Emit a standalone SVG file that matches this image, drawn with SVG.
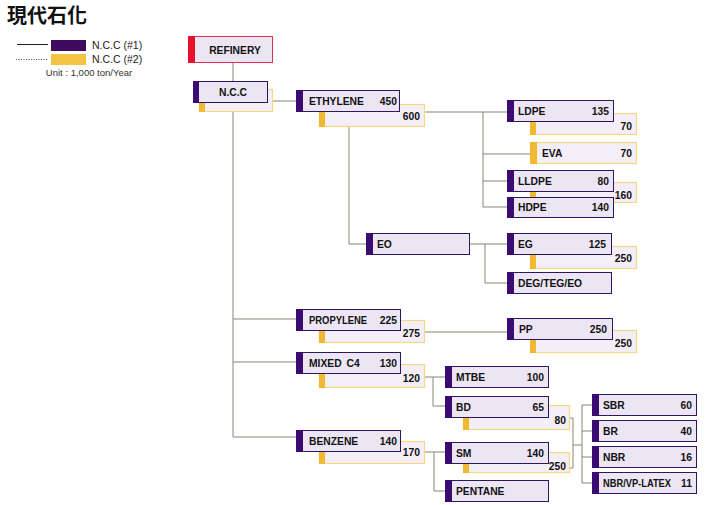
<svg xmlns="http://www.w3.org/2000/svg" width="724" height="505" viewBox="0 0 724 505">
<style>
.b1{fill:#ece5f4;stroke:#2e1660;stroke-width:1}
.b2{fill:#f3eef7;stroke:#f1d985;stroke-width:1.2}
.pb{fill:#3a0c72}
.yb{fill:#f1b932}
.t{font-family:"Liberation Sans",Arial,sans-serif;font-weight:bold;font-size:10.3px;fill:#111}
.e{text-anchor:end}
.c{stroke:#858575;stroke-width:1;fill:none}
</style>
<rect width="724" height="505" fill="#fff"/>
<g id="title"><text x="7" y="23" font-family="'Noto Sans CJK TC','Noto Sans CJK SC',sans-serif" font-size="20" font-weight="bold" fill="#111">現代石化</text></g>
<g id="legend">
<line x1="17" y1="44.5" x2="48" y2="44.5" stroke="#222" stroke-width="1"/>
<rect x="51" y="40" width="35" height="11" fill="#3e0b60"/>
<text x="92" y="49" font-family="'Liberation Sans',Arial,sans-serif" font-size="10.5" fill="#222">N.C.C (#1)</text>
<line x1="16" y1="59.5" x2="48" y2="59.5" stroke="#555" stroke-width="1" stroke-dasharray="1,1.5"/>
<rect x="51" y="54" width="35" height="11" fill="#f6c444"/>
<text x="92" y="63" font-family="'Liberation Sans',Arial,sans-serif" font-size="10.5" fill="#222">N.C.C (#2)</text>
<text x="89" y="76" text-anchor="middle" font-family="'Liberation Sans',Arial,sans-serif" font-size="9.5" fill="#333">Unit : 1,000 ton/Year</text>
</g>
<g id="connectors">
<path class="c" d="M233 62V81M233 102V437M273 101H296M233 319H296M233 362H296M233 437H296"/>
<path class="c" d="M424 112H507M483 112V207M483 154H530M483 181H507M483 207H507"/>
<path class="c" d="M349 126V244H366M469 244H507M485 244V283H507"/>
<path class="c" d="M424 332H507"/>
<path class="c" d="M424 377H445M433 377V406H445"/>
<path class="c" d="M424 452H445M434 452V491H445"/>
<path class="c" d="M569 418H573M570 468H573M573 418V468M573 445H582M582 405V483M582 405H592M582 431H592M582 457H592M582 483H592"/>
</g>
<g id="refinery">
<rect x="188.5" y="36.5" width="84" height="26" fill="#ece5f4" stroke="#e2304f" stroke-width="1"/>
<rect x="188" y="36" width="7" height="27" fill="#e8102a"/>
<text class="t" x="235" y="54" text-anchor="middle" font-size="11">REFINERY</text>
</g>
<g id="ncc">
<rect class="b2" x="199.5" y="89.5" width="73" height="22"/>
<rect class="yb" x="199" y="89" width="6" height="23"/>
<rect class="b1" x="193.5" y="81.5" width="74" height="21"/>
<rect class="pb" x="193" y="81" width="6" height="22"/>
<text class="t" x="233" y="96" text-anchor="middle" font-size="11">N.C.C</text>
</g>
<g id="ethylene">
<rect class="b2" x="319.5" y="104.5" width="105" height="22"/>
<rect class="yb" x="319" y="104" width="6" height="23"/>
<rect class="b1" x="296.5" y="90.5" width="103" height="21"/>
<rect class="pb" x="296" y="90" width="7" height="22"/>
<text class="t" x="309" y="105">ETHYLENE</text>
<text class="t e" x="397" y="105">450</text>
<text class="t e" x="420" y="120">600</text>
</g>
<g id="ldpe">
<rect class="b2" x="530.5" y="113.5" width="106" height="21"/>
<rect class="yb" x="530" y="113" width="6" height="22"/>
<rect class="b1" x="507.5" y="100.5" width="106" height="21"/>
<rect class="pb" x="507" y="100" width="7" height="22"/>
<text class="t" x="518" y="115">LDPE</text>
<text class="t e" x="609" y="115">135</text>
<text class="t e" x="632" y="130">70</text>
</g>
<g id="eva">
<rect class="b2" x="530.5" y="142.5" width="106" height="21"/>
<rect class="yb" x="530" y="142" width="7" height="22"/>
<text class="t" x="542" y="157">EVA</text>
<text class="t e" x="632" y="157">70</text>
</g>
<g id="lldpe-hdpe-2">
<rect class="b2" x="530.5" y="182.5" width="106" height="20"/>
<rect class="yb" x="530" y="182" width="6" height="21"/>
<text class="t e" x="632" y="199">160</text>
</g>
<g id="lldpe">
<rect class="b1" x="507.5" y="170.5" width="106" height="21"/>
<rect class="pb" x="507" y="170" width="7" height="22"/>
<text class="t" x="518" y="185">LLDPE</text>
<text class="t e" x="609" y="185">80</text>
</g>
<g id="hdpe">
<rect class="b1" x="507.5" y="197.5" width="106" height="20"/>
<rect class="pb" x="507" y="197" width="7" height="21"/>
<text class="t" x="518" y="211">HDPE</text>
<text class="t e" x="609" y="211">140</text>
</g>
<g id="eo">
<rect class="b1" x="366.5" y="233.5" width="103" height="21"/>
<rect class="pb" x="366" y="233" width="7" height="22"/>
<text class="t" x="377" y="248">EO</text>
</g>
<g id="eg">
<rect class="b2" x="530.5" y="246.5" width="106" height="22"/>
<rect class="yb" x="530" y="246" width="6" height="23"/>
<rect class="b1" x="507.5" y="233.5" width="104" height="21"/>
<rect class="pb" x="507" y="233" width="7" height="22"/>
<text class="t" x="518" y="248">EG</text>
<text class="t e" x="606" y="248">125</text>
<text class="t e" x="632" y="262">250</text>
</g>
<g id="deg-teg-eo">
<rect class="b1" x="507.5" y="272.5" width="104" height="21"/>
<rect class="pb" x="507" y="272" width="7" height="22"/>
<text class="t" x="518" y="287">DEG/TEG/EO</text>
</g>
<g id="propylene">
<rect class="b2" x="319.5" y="320.5" width="105" height="22"/>
<rect class="yb" x="319" y="320" width="6" height="23"/>
<rect class="b1" x="296.5" y="309.5" width="104" height="21"/>
<rect class="pb" x="296" y="309" width="7" height="22"/>
<text class="t" x="309" y="324" textLength="58" lengthAdjust="spacingAndGlyphs">PROPYLENE</text>
<text class="t e" x="397" y="324">225</text>
<text class="t e" x="420" y="337">275</text>
</g>
<g id="pp">
<rect class="b2" x="530.5" y="330.5" width="106" height="22"/>
<rect class="yb" x="530" y="330" width="6" height="23"/>
<rect class="b1" x="507.5" y="318.5" width="105" height="21"/>
<rect class="pb" x="507" y="318" width="7" height="22"/>
<text class="t" x="519" y="333">PP</text>
<text class="t e" x="607" y="333">250</text>
<text class="t e" x="632" y="347">250</text>
</g>
<g id="mixed-c4">
<rect class="b2" x="319.5" y="364.5" width="105" height="23"/>
<rect class="yb" x="319" y="364" width="6" height="24"/>
<rect class="b1" x="296.5" y="352.5" width="104" height="21"/>
<rect class="pb" x="296" y="352" width="7" height="22"/>
<text class="t" x="309" y="367" word-spacing="2">MIXED C4</text>
<text class="t e" x="397" y="367">130</text>
<text class="t e" x="420" y="382">120</text>
</g>
<g id="mtbe">
<rect class="b1" x="445.5" y="366.5" width="103" height="21"/>
<rect class="pb" x="445" y="366" width="7" height="22"/>
<text class="t" x="456" y="381">MTBE</text>
<text class="t e" x="544" y="381">100</text>
</g>
<g id="bd">
<rect class="b2" x="463.5" y="405.5" width="106" height="24"/>
<rect class="yb" x="463" y="405" width="6" height="25"/>
<rect class="b1" x="445.5" y="396.5" width="103" height="21"/>
<rect class="pb" x="445" y="396" width="7" height="22"/>
<text class="t" x="456" y="411">BD</text>
<text class="t e" x="544" y="411">65</text>
<text class="t e" x="566" y="424">80</text>
</g>
<g id="benzene">
<rect class="b2" x="319.5" y="441.5" width="105" height="22"/>
<rect class="yb" x="319" y="441" width="6" height="23"/>
<rect class="b1" x="296.5" y="430.5" width="104" height="21"/>
<rect class="pb" x="296" y="430" width="7" height="22"/>
<text class="t" x="309" y="445">BENZENE</text>
<text class="t e" x="397" y="445">140</text>
<text class="t e" x="420" y="456">170</text>
</g>
<g id="sm">
<rect class="b2" x="463.5" y="452.5" width="106" height="20"/>
<rect class="yb" x="463" y="452" width="6" height="21"/>
<rect class="b1" x="445.5" y="442.5" width="103" height="21"/>
<rect class="pb" x="445" y="442" width="7" height="22"/>
<text class="t" x="456" y="457">SM</text>
<text class="t e" x="544" y="457">140</text>
<text class="t e" x="566" y="470">250</text>
</g>
<g id="pentane">
<rect class="b1" x="445.5" y="480.5" width="103" height="21"/>
<rect class="pb" x="445" y="480" width="7" height="22"/>
<text class="t" x="456" y="495">PENTANE</text>
</g>
<g id="sbr">
<rect class="b1" x="592.5" y="394.5" width="104" height="21"/>
<rect class="pb" x="592" y="394" width="7" height="22"/>
<text class="t" x="603" y="409">SBR</text>
<text class="t e" x="692" y="409">60</text>
</g>
<g id="br">
<rect class="b1" x="592.5" y="420.5" width="104" height="21"/>
<rect class="pb" x="592" y="420" width="7" height="22"/>
<text class="t" x="603" y="435">BR</text>
<text class="t e" x="692" y="435">40</text>
</g>
<g id="nbr">
<rect class="b1" x="592.5" y="446.5" width="104" height="21"/>
<rect class="pb" x="592" y="446" width="7" height="22"/>
<text class="t" x="603" y="461">NBR</text>
<text class="t e" x="692" y="461">16</text>
</g>
<g id="nbr-vp-latex">
<rect class="b1" x="592.5" y="472.5" width="104" height="21"/>
<rect class="pb" x="592" y="472" width="7" height="22"/>
<text class="t" x="603" y="487" textLength="68" lengthAdjust="spacingAndGlyphs">NBR/VP-LATEX</text>
<text class="t e" x="692" y="487">11</text>
</g>
</svg>
